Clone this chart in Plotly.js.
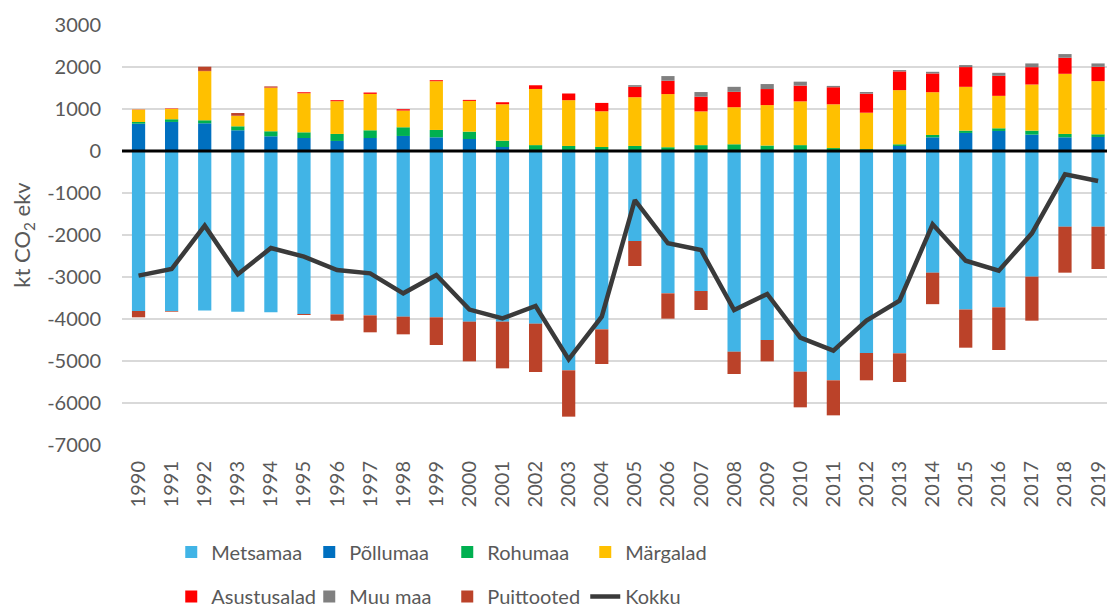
<!DOCTYPE html>
<html>
<head>
<meta charset="utf-8">
<script src="https://cdn.plot.ly/plotly-3.0.1.min.js"></script>
<style>
  html, body { margin: 0; padding: 0; background: #ffffff; }
  #chart { width: 1107px; height: 608px; }
</style>
</head>
<body>
<div id="chart"></div>
<script>
const years = ['1990','1991','1992','1993','1994','1995','1996','1997','1998','1999',
  '2000','2001','2002','2003','2004','2005','2006','2007','2008','2009',
  '2010','2011','2012','2013','2014','2015','2016','2017','2018','2019'];

const metsamaa = [-3810,-3810,-3800,-3825,-3841,-3880,-3889,-3913,-3944,-3960,
  -4063,-4063,-4111,-5222,-4246,-2143,-3389,-3333,-4778,-4500,
  -5254,-5460,-4810,-4817,-2897,-3774,-3722,-2992,-1802,-1802];
const pollumaa = [650,692,660,493,350,310,239,310,358,326,
  286,95,10,10,10,10,10,10,10,20,
  20,10,10,120,326,430,477,390,326,334];
const rohumaa = [40,64,72,95,120,135,167,183,207,175,
  175,151,130,110,85,110,80,130,150,110,
  120,60,35,40,56,56,64,95,80,64];
const margalad = [295,247,1170,247,1034,930,780,867,398,1161,
  732,867,1337,1090,851,1161,1265,803,883,963,
  1042,1042,867,1289,1018,1042,772,1098,1432,1265];
const asustusalad = [5,10,5,5,10,24,24,32,32,24,
  24,48,88,159,199,247,318,350,366,382,
  374,406,453,446,446,470,477,414,382,342];
const muuMaa = [0,0,0,0,0,0,0,0,0,0,
  0,0,0,0,0,40,111,111,119,119,
  95,32,40,32,40,48,72,88,88,80];
const puittooted = [-150,-16,100,64,24,-24,-151,-404,-421,-659,
  -945,-1112,-1151,-1103,-825,-595,-603,-453,-532,-508,
  -849,-834,-650,-683,-750,-909,-1016,-1048,-1095,-1008];
const kokku = [-2968,-2810,-1778,-2937,-2310,-2516,-2833,-2913,-3389,-2952,
  -3775,-3985,-3690,-4960,-3944,-1167,-2198,-2357,-3786,-3405,
  -4444,-4754,-4040,-3563,-1746,-2611,-2849,-1960,-556,-714];

const yTickVals = [3000,2000,1000,0,-1000,-2000,-3000,-4000,-5000,-6000,-7000];
const yTickText = ['3000','2000','1000','0','-1000','-2000','-3000','-4000','-5000','-6000','-7000'];

const FONT = 'Lato, "Open Sans", sans-serif';
const TXT = '#595959';

function bar(name, y, color, legend) {
  return { type: 'bar', name: name, x: years, y: y, legend: legend,
    marker: { color: color, line: { width: 0 } }, hoverinfo: 'skip' };
}

const traces = [
  bar('Metsamaa', metsamaa, '#41B4E6', 'legend'),
  bar('Põllumaa', pollumaa, '#0070C0', 'legend'),
  bar('Rohumaa', rohumaa, '#00B050', 'legend'),
  bar('Märgalad', margalad, '#FFC000', 'legend'),
  bar('Asustusalad', asustusalad, '#FF0000', 'legend2'),
  bar('Muu maa', muuMaa, '#808080', 'legend2'),
  bar('Puittooted', puittooted, '#BB4229', 'legend2'),
  { type: 'scatter', mode: 'lines', name: 'Kokku', x: years, y: kokku, legend: 'legend2',
    line: { color: '#3A3A3A', width: 4.5 }, hoverinfo: 'skip' }
];

const legendCommon = {
  orientation: 'h', xanchor: 'left', yanchor: 'middle',
  x: 0.05, entrywidth: 93, entrywidthmode: 'pixels',
  traceorder: 'normal', font: { family: FONT, size: 20, color: TXT },
  bgcolor: 'rgba(0,0,0,0)', borderwidth: 0
};

const layout = {
  width: 1107, height: 608,
  margin: { l: 122, r: 0, t: 25, b: 163, autoexpand: false },
  paper_bgcolor: '#ffffff', plot_bgcolor: '#ffffff',
  barmode: 'relative', bargap: 0.6,
  font: { family: FONT, size: 20, color: TXT },
  showlegend: true,
  legend: Object.assign({}, legendCommon, { y: -0.255 }),
  legend2: Object.assign({}, legendCommon, { y: -0.361 }),
  xaxis: {
    type: 'category', range: [-0.5, 29.27], showgrid: false, zeroline: false,
    showline: false, ticks: '', tickangle: -90, ticklabelstandoff: 11,
    tickfont: { family: FONT, size: 20, color: TXT }, automargin: false
  },
  yaxis: {
    range: [-7000, 3000], tickmode: 'array', tickvals: yTickVals, ticktext: yTickText,
    showgrid: true, gridcolor: '#D9D9D9', gridwidth: 1.5, zeroline: false, showline: false, ticks: '',
    ticklabelstandoff: 20,
    tickfont: { family: FONT, size: 20, color: TXT }, automargin: false,
    title: { text: 'kt CO<sub>2</sub> ekv', font: { family: FONT, size: 22, color: TXT }, standoff: 10 }
  },
  shapes: [{ type: 'line', xref: 'paper', x0: 0, x1: 1, yref: 'y', y0: 0, y1: 0,
    line: { color: '#000000', width: 3 }, layer: 'above' }]
};

Plotly.newPlot('chart', traces, layout, { displayModeBar: false, staticPlot: true });
</script>
</body>
</html>
